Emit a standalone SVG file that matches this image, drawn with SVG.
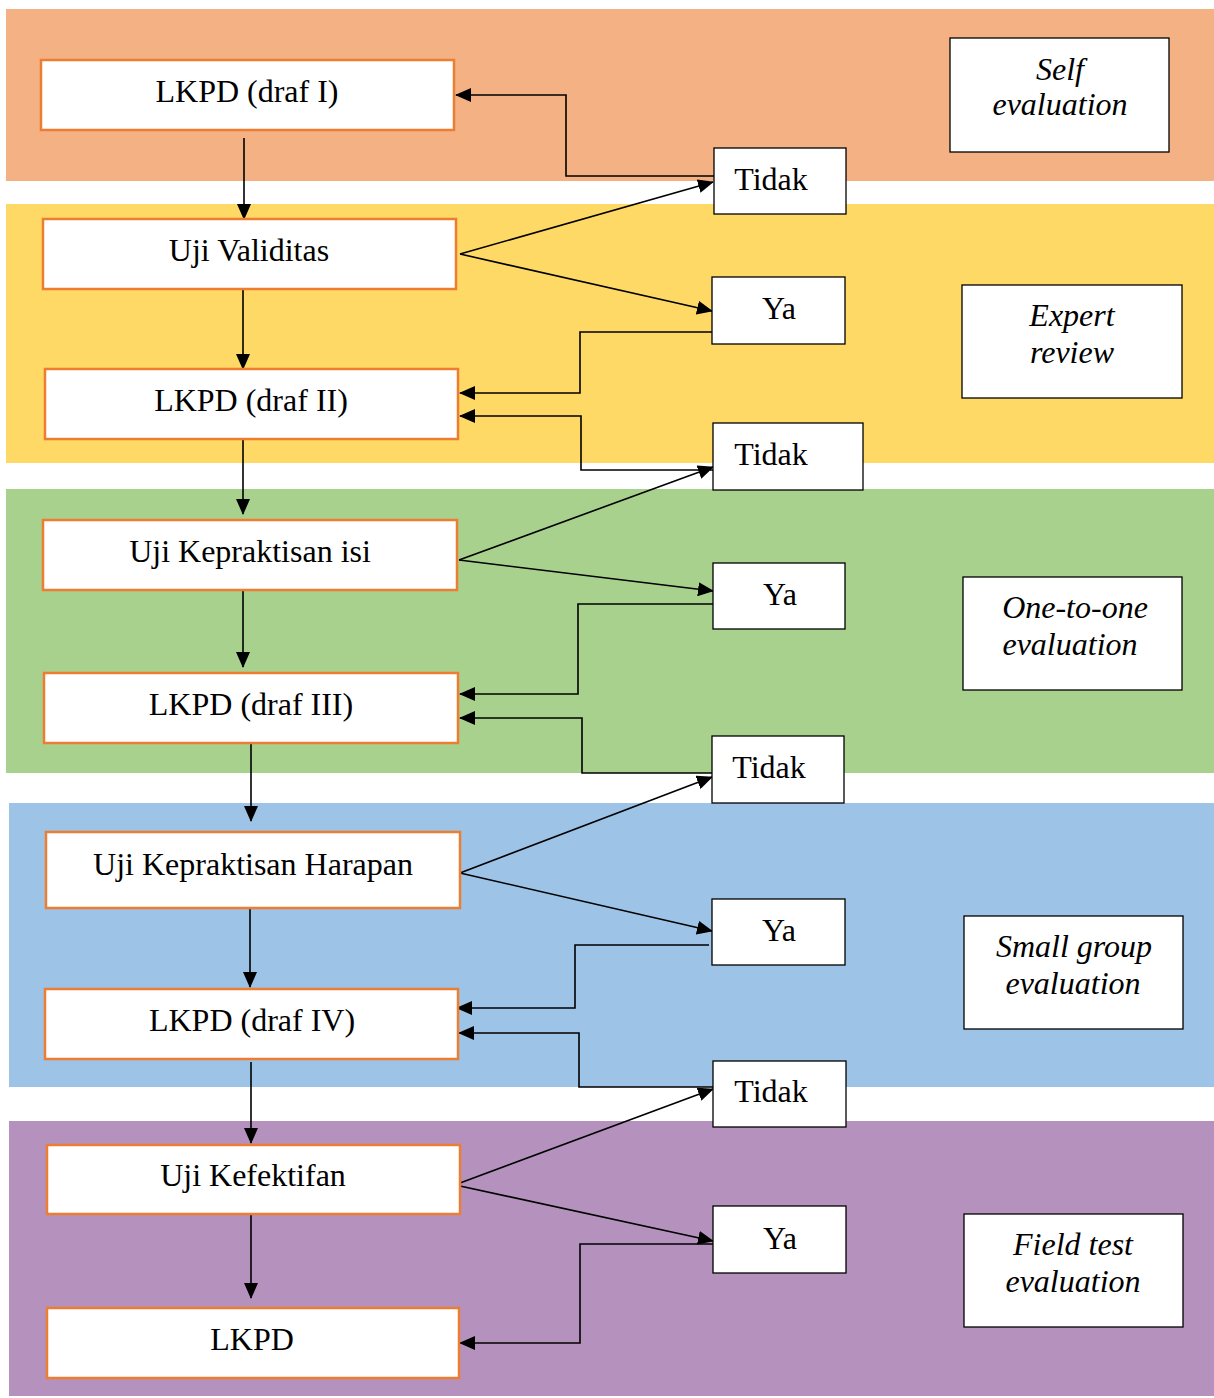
<svg xmlns="http://www.w3.org/2000/svg" width="1214" height="1398" viewBox="0 0 1214 1398">
<defs>
<marker id="ah" markerUnits="userSpaceOnUse" markerWidth="16" markerHeight="14" refX="15" refY="7" orient="auto">
<path d="M0,0 L16,7 L0,14 z" fill="#000"/>
</marker>
<style>
.band{stroke:none}
.main rect{fill:#fff;stroke:#ED7D31;stroke-width:2.5}
.dec rect{fill:#fff;stroke:#000;stroke-width:1.3}
.lab rect{fill:#fff;stroke:#000;stroke-width:1.3}
text{font-family:"Liberation Serif","Times New Roman",serif;font-size:32px;fill:#000}
.main text,.lab text{text-anchor:middle}
.lab text{font-style:italic}
.dec text{text-anchor:middle}
#connectors path,#connectors line{fill:none;stroke:#000;stroke-width:1.6;marker-end:url(#ah)}
</style>
</defs>
<rect width="1214" height="1398" fill="#fff"/>
<g id="bands">
<rect class="band" x="6" y="9" width="1208" height="172" fill="#F4B183"/>
<rect class="band" x="6" y="204" width="1208" height="259" fill="#FFD966"/>
<rect class="band" x="6" y="489" width="1208" height="284" fill="#A9D18E"/>
<rect class="band" x="9" y="803" width="1205" height="284" fill="#9DC3E6"/>
<rect class="band" x="9" y="1121" width="1205" height="275" fill="#B492BD"/>
</g>
<g id="connectors">
<line x1="244" y1="138" x2="244" y2="219"/>
<line x1="243" y1="289" x2="243" y2="369"/>
<line x1="243" y1="432" x2="243" y2="514"/>
<line x1="243" y1="587" x2="243" y2="667"/>
<line x1="251" y1="739" x2="251" y2="821"/>
<line x1="250" y1="905" x2="250" y2="987"/>
<line x1="251" y1="1062" x2="251" y2="1143"/>
<line x1="251" y1="1215" x2="251" y2="1298"/>
<line x1="460" y1="254" x2="713" y2="182"/>
<line x1="460" y1="254" x2="712" y2="311"/>
<path d="M714,176 H566 V95 H456"/>
<path d="M714,332 H580 V393 H460"/>
<path d="M713,470 H581 V416 H460"/>
<line x1="459" y1="560" x2="713" y2="467"/>
<line x1="459" y1="560" x2="713" y2="591"/>
<path d="M713,604 H578 V694 H460"/>
<path d="M712,773 H582 V718 H460"/>
<line x1="460" y1="873" x2="712" y2="777"/>
<line x1="460" y1="873" x2="712" y2="931"/>
<path d="M709,945 H575 V1008 H457"/>
<path d="M713,1087 H579 V1033 H459"/>
<line x1="460" y1="1183" x2="713" y2="1089"/>
<line x1="460" y1="1186" x2="713" y2="1241"/>
<path d="M713,1244 H580 V1343 H460"/>
</g>
<g id="n1" class="main"><rect x="41" y="60" width="413" height="70"/><text x="247" y="102">LKPD (draf I)</text></g>
<g id="n2" class="main"><rect x="43" y="219" width="413" height="70"/><text x="249" y="261">Uji Validitas</text></g>
<g id="n3" class="main"><rect x="45" y="369" width="413" height="70"/><text x="251" y="411">LKPD (draf II)</text></g>
<g id="n4" class="main"><rect x="43" y="520" width="414" height="70"/><text x="250" y="562">Uji Kepraktisan isi</text></g>
<g id="n5" class="main"><rect x="44" y="673" width="414" height="70"/><text x="251" y="715">LKPD (draf III)</text></g>
<g id="n6" class="main"><rect x="46" y="832" width="414" height="76"/><text x="253" y="875">Uji Kepraktisan Harapan</text></g>
<g id="n7" class="main"><rect x="45" y="989" width="413" height="70"/><text x="252" y="1031">LKPD (draf IV)</text></g>
<g id="n8" class="main"><rect x="47" y="1145" width="413" height="69"/><text x="253" y="1186">Uji Kefektifan</text></g>
<g id="n9" class="main"><rect x="47" y="1308" width="412" height="70"/><text x="252" y="1350">LKPD</text></g>
<g id="d1" class="dec"><rect x="714" y="148" width="132" height="66"/><text x="771" y="190">Tidak</text></g>
<g id="d2" class="dec"><rect x="712" y="277" width="133" height="67"/><text x="779" y="319">Ya</text></g>
<g id="d3" class="dec"><rect x="713" y="423" width="150" height="67"/><text x="771" y="465">Tidak</text></g>
<g id="d4" class="dec"><rect x="713" y="563" width="132" height="66"/><text x="780" y="605">Ya</text></g>
<g id="d5" class="dec"><rect x="712" y="736" width="132" height="67"/><text x="769" y="778">Tidak</text></g>
<g id="d6" class="dec"><rect x="712" y="899" width="133" height="66"/><text x="779" y="941">Ya</text></g>
<g id="d7" class="dec"><rect x="713" y="1061" width="133" height="66"/><text x="771" y="1102">Tidak</text></g>
<g id="d8" class="dec"><rect x="713" y="1206" width="133" height="67"/><text x="780" y="1249">Ya</text></g>
<g id="l1" class="lab"><rect x="950" y="38" width="219" height="114"/><text x="1060" y="80">Self</text><text x="1060" y="115">evaluation</text></g>
<g id="l2" class="lab"><rect x="962" y="285" width="220" height="113"/><text x="1072" y="326">Expert</text><text x="1072" y="363">review</text></g>
<g id="l3" class="lab"><rect x="963" y="577" width="219" height="113"/><text x="1075" y="618">One-to-one</text><text x="1070" y="655">evaluation</text></g>
<g id="l4" class="lab"><rect x="964" y="916" width="219" height="113"/><text x="1074" y="957">Small group</text><text x="1073" y="994">evaluation</text></g>
<g id="l5" class="lab"><rect x="964" y="1214" width="219" height="113"/><text x="1073" y="1255">Field test</text><text x="1073" y="1292">evaluation</text></g>
</svg>
